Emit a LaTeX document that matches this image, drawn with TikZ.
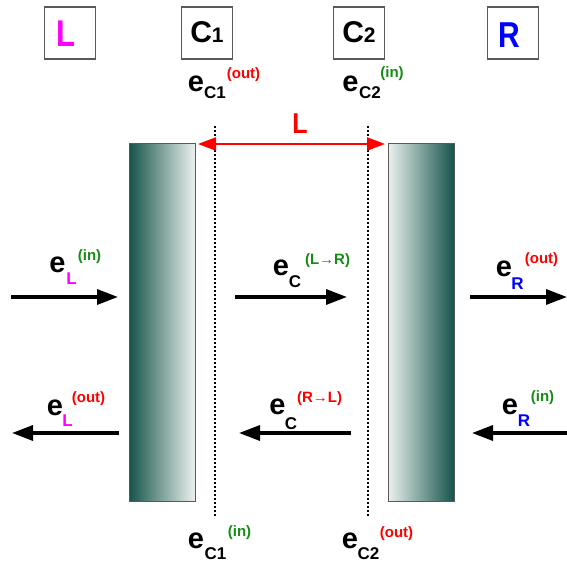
\documentclass[tikz,border=0pt]{standalone}
\usepackage{fontspec}
\setmainfont{Liberation Sans}
\usetikzlibrary{arrows.meta}
\definecolor{mag}{RGB}{255,0,255}
\definecolor{blu}{RGB}{0,0,255}
\definecolor{grn}{RGB}{20,140,20}
\definecolor{redx}{RGB}{255,0,0}
\definecolor{tealdark}{RGB}{22,84,74}
\definecolor{teallight}{RGB}{234,241,239}
\begin{document}
\begin{tikzpicture}[x=1pt,y=-1pt,
  ebig/.style={inner sep=0pt, font=\bfseries\fontsize{29}{29}\selectfont},
  esub/.style={inner sep=0pt, font=\bfseries\fontsize{17}{17}\selectfont},
  esup/.style={inner sep=0pt, font=\bfseries\fontsize{15}{15}\selectfont},
  hdrbox/.style={draw=black!65, line width=1.1pt, minimum width=51pt, minimum height=52pt, inner sep=0pt},
  hdrtxt/.style={inner sep=0pt, font=\bfseries},
  flow/.style={line width=3.3pt, -{Triangle[length=21pt,width=15pt]}},
  wallbox/.style={draw=black!65, line width=1pt, minimum width=66pt, minimum height=358pt, inner sep=0pt},
  plane/.style={line width=1.2pt, dash pattern=on 2pt off 2pt},
  gap/.style={redx, line width=2.2pt, {Triangle[length=18pt,width=13pt]}-{Triangle[length=18pt,width=13pt]}}
]
\useasboundingbox (0,0) rectangle (567,562);

% header boxes
\node[hdrbox] (bL) at (70,33) {};
\node[hdrbox] (bC1) at (207,33) {};
\node[hdrbox] (bC2) at (359,33) {};
\node[hdrbox] (bR) at (513,33) {};
\node[hdrtxt, text=mag] (tL) at (66,33.5) {\scalebox{1}[1.2]{\fontsize{31}{31}\selectfont L}};
\node[hdrtxt] (tC1) at (207,32.5) {\fontsize{30}{30}\selectfont C{\fontsize{21}{21}\selectfont 1}};
\node[hdrtxt] (tC2) at (359,32.5) {\fontsize{30}{30}\selectfont C{\fontsize{21}{21}\selectfont 2}};
\node[hdrtxt, text=blu] (tR) at (509,35.5) {\scalebox{1}[1.2]{\fontsize{30}{30}\selectfont R}};

% walls
\node[wallbox, left color=tealdark, right color=teallight] (wl) at (162,322) {};
\node[wallbox, left color=teallight, right color=tealdark] (wr) at (421,322) {};

% dotted planes
\coordinate (p1t) at (215,126);
\coordinate (p1b) at (215,517);
\coordinate (p2t) at (368,126);
\coordinate (p2b) at (368,517);
\draw[plane] (p1t) -- (p1b);
\draw[plane] (p2t) -- (p2b);

% gap arrow
\coordinate (ga) at (198,144);
\coordinate (gb) at (385,144);
\draw[gap] (ga) -- (gb);
\node[inner sep=0pt, text=redx, font=\bfseries] (gL) at (300,123.5) {\scalebox{1}[1.15]{\fontsize{25}{25}\selectfont L}};

% top plane labels
\node[ebig] (ec1t) at (196,84) {e};
\node[esub] (ec1ts) at (215,93) {C1};
\node[esup, text=redx] (ec1tp) at (243.5,75) {(out)};
\node[ebig] (ec2t) at (350.5,84) {e};
\node[esub] (ec2ts) at (370,93) {C2};
\node[esup, text=grn] (ec2tp) at (392,73.5) {(in)};

% bottom plane labels
\node[ebig] (ec1b) at (196,541) {e};
\node[esub] (ec1bs) at (215.5,554) {C1};
\node[esup, text=grn] (ec1bp) at (239.5,532.5) {(in)};
\node[ebig] (ec2b) at (350,541) {e};
\node[esub] (ec2bs) at (368.5,554) {C2};
\node[esup, text=redx] (ec2bp) at (396.5,533.5) {(out)};

% row 1 arrows
\coordinate (a1s) at (11,297);   \coordinate (a1e) at (118,297);
\coordinate (a2s) at (235,297);  \coordinate (a2e) at (347,297);
\coordinate (a3s) at (470,297);  \coordinate (a3e) at (567,297);
\draw[flow] (a1s) -- (a1e);
\draw[flow] (a2s) -- (a2e);
\draw[flow] (a3s) -- (a3e);

% row 2 arrows
\coordinate (b1s) at (119,433);  \coordinate (b1e) at (12,433);
\coordinate (b2s) at (351,433);  \coordinate (b2e) at (239,433);
\coordinate (b3s) at (567,433);  \coordinate (b3e) at (472,433);
\draw[flow] (b1s) -- (b1e);
\draw[flow] (b2s) -- (b2e);
\draw[flow] (b3s) -- (b3e);

% row 1 labels
\node[ebig] (eL1) at (57.5,265) {e};
\node[esub, text=mag] (eL1s) at (71.5,279) {L};
\node[esup, text=grn] (eL1p) at (89.5,256.5) {(in)};
\node[ebig] (eC1) at (281,267.5) {e};
\node[esub] (eC1s) at (295,281.5) {C};
\node[esup, text=grn] (eC1p) at (327.5,260.5) {(L→R)};
\node[ebig] (eR1) at (504,268.5) {e};
\node[esub, text=blu] (eR1s) at (517.5,283.5) {R};
\node[esup, text=redx] (eR1p) at (541.5,260) {(out)};

% row 2 labels
\node[ebig] (eL2) at (55,407.5) {e};
\node[esub, text=mag] (eL2s) at (67.5,421) {L};
\node[esup, text=redx] (eL2p) at (88.5,398.5) {(out)};
\node[ebig] (eC2) at (277.5,406.5) {e};
\node[esub] (eC2s) at (291,423.5) {C};
\node[esup, text=redx] (eC2p) at (319.5,398.5) {(R→L)};
\node[ebig] (eR2) at (510,406.5) {e};
\node[esub, text=blu] (eR2s) at (524,421) {R};
\node[esup, text=grn] (eR2p) at (542.5,397.5) {(in)};
\end{tikzpicture}
\end{document}
